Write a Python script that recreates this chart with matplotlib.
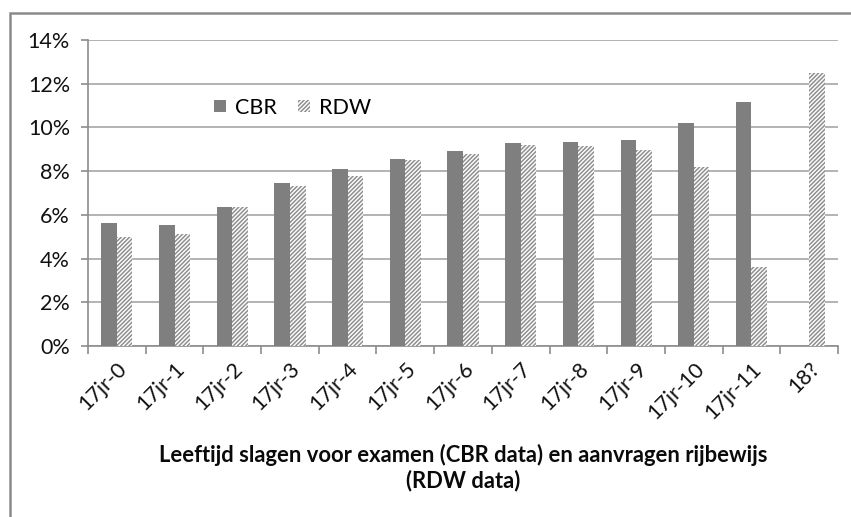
import matplotlib
matplotlib.use("Agg")
import matplotlib.pyplot as plt
import numpy as np
from matplotlib.patches import Rectangle
from matplotlib.ticker import FuncFormatter, MultipleLocator

categories = ["17jr-0", "17jr-1", "17jr-2", "17jr-3", "17jr-4", "17jr-5", "17jr-6",
              "17jr-7", "17jr-8", "17jr-9", "17jr-10", "17jr-11", "18?"]
cbr = [5.64, 5.53, 6.37, 7.47, 8.12, 8.55, 8.92, 9.28, 9.35, 9.44, 10.19, 11.16, np.nan]
rdw = [4.97, 5.12, 6.34, 7.33, 7.78, 8.50, 8.80, 9.20, 9.15, 8.95, 8.17, 3.63, 12.47]
xlabel = "Leeftijd slagen voor examen (CBR data) en aanvragen rijbewijs\n(RDW data)"

plt.rcParams['font.family'] = ['Lato', 'DejaVu Sans']
plt.rcParams['hatch.linewidth'] = 1.1

W, H = 851, 517
fig = plt.figure(figsize=(W / 100, H / 100), dpi=100)
ax = fig.add_axes([88 / W, (H - 346) / H, (838 - 88) / W, (346 - 40) / H])

x = np.arange(len(categories))
bw = 0.27
gray = "#7f7f7f"
ax.bar(x - bw / 2, cbr, width=bw, color=gray, linewidth=0, label="CBR", zorder=3)
ax.bar(x + bw / 2, rdw, width=bw, facecolor="white", edgecolor="#8f8f8f",
       hatch="////////", linewidth=0, label="RDW", zorder=3)

ax.set_xlim(-0.5, len(categories) - 0.5)
ax.set_ylim(0, 14)
ax.yaxis.set_major_locator(MultipleLocator(2))
ax.yaxis.set_major_formatter(FuncFormatter(lambda v, p: f"{v:.0f}%"))
ax.grid(axis="y", color="#a6a6a6", linewidth=1.2, zorder=0)
ax.set_axisbelow(True)

for s in ["top", "right"]:
    ax.spines[s].set_visible(False)
for s in ["left", "bottom"]:
    ax.spines[s].set_color("#8c8c8c")
    ax.spines[s].set_linewidth(1.2)

ax.set_xticks(np.arange(-0.5, len(categories)), minor=False)
ax.set_xticklabels([])
ax.tick_params(axis="x", which="major", length=6, color="#8c8c8c", width=1.2)
ax.set_xticks(x, minor=True)
ax.set_xticklabels(categories, minor=True, rotation=45, ha="right",
                   rotation_mode="anchor", fontsize=15.5, color="#111111")
ax.tick_params(axis="x", which="minor", length=0, pad=9)
ax.tick_params(axis="y", length=5, color="#8c8c8c", width=1.2, pad=8,
               labelsize=15.5, labelcolor="#111111")

leg = ax.legend(loc="upper left", bbox_to_anchor=(0.142, 0.875), ncol=2, frameon=False,
                fontsize=15.5, handlelength=0.55, handleheight=0.55, handletextpad=0.45,
                columnspacing=0.95)

fig.text(463 / W, 1 - 468 / H, xlabel, ha="center", va="center", fontsize=15.8,
         fontweight="bold", color="#0a0a0a", linespacing=1.2)

fig.patches.append(Rectangle((10 / W, -0.1), 2.0, 1 - 13 / H + 0.1, transform=fig.transFigure,
                             fill=False, edgecolor="#8a8a8a", linewidth=1.8, zorder=0))

fig.savefig("out.png", dpi=100)
